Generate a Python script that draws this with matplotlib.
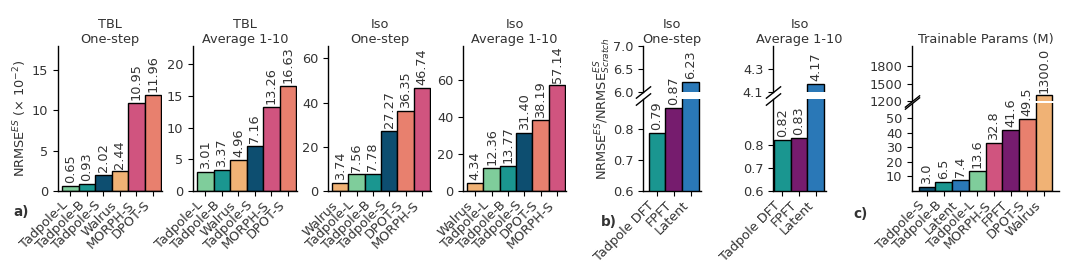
import matplotlib
matplotlib.use("Agg")
import matplotlib.pyplot as plt

# colour per model
colors = {
    "Tadpole-L": "#7fcd9b",
    "Tadpole-B": "#1a9690",
    "Tadpole-S": "#0d4e70",
    "Walrus": "#f0b275",
    "MORPH-S": "#d0547f",
    "DPOT-S": "#e8806e",
    "Tadpole DFT": "#1a9690",
    "FPFT": "#761c6e",
    "Latent": "#2a78b7",
}

# a) NRMSE^ES (x 1e-2)
tbl_one_models = ["Tadpole-L", "Tadpole-B", "Tadpole-S", "Walrus", "MORPH-S", "DPOT-S"]
tbl_one_vals = [0.65, 0.93, 2.02, 2.44, 10.95, 11.96]
tbl_avg_models = ["Tadpole-L", "Tadpole-B", "Walrus", "Tadpole-S", "MORPH-S", "DPOT-S"]
tbl_avg_vals = [3.01, 3.37, 4.96, 7.16, 13.26, 16.63]
iso_one_models = ["Walrus", "Tadpole-L", "Tadpole-B", "Tadpole-S", "DPOT-S", "MORPH-S"]
iso_one_vals = [3.74, 7.56, 7.78, 27.27, 36.35, 46.74]
iso_avg_models = ["Walrus", "Tadpole-L", "Tadpole-B", "Tadpole-S", "DPOT-S", "MORPH-S"]
iso_avg_vals = [4.34, 12.36, 13.77, 31.40, 38.19, 57.14]

# b) ratio to scratch
ft_models = ["Tadpole DFT", "FPFT", "Latent"]
ft_one_vals = [0.79, 0.87, 6.23]
ft_avg_vals = [0.82, 0.83, 4.17]

# c) trainable params (M)
param_models = ["Tadpole-S", "Tadpole-B", "Latent", "Tadpole-L", "MORPH-S", "FPFT", "DPOT-S", "Walrus"]
param_vals = [3.0, 6.5, 7.4, 13.6, 32.8, 41.6, 49.5, 1300.0]

W, H = 1080, 263
FS = 9.3
TXT = "#333333"
plt.rcParams["font.size"] = FS
plt.rcParams["axes.linewidth"] = 1.0
plt.rcParams["text.color"] = TXT
plt.rcParams["axes.labelcolor"] = TXT
plt.rcParams["xtick.labelcolor"] = TXT
plt.rcParams["ytick.labelcolor"] = TXT
plt.rcParams["xtick.major.pad"] = 2

fig = plt.figure(figsize=(W / 100, H / 100), dpi=100)


def px_axes(left, right, top, bottom):
    return fig.add_axes([left / W, 1 - bottom / H, (right - left) / W, (bottom - top) / H])


def draw_bars(ax, models, vals):
    x = list(range(len(models)))
    ax.bar(x, vals, width=1.0, color=[colors[m] for m in models], edgecolor="black", linewidth=1.0)
    ax.spines["right"].set_visible(False)
    ax.spines["top"].set_visible(False)
    return x


def add_labels(ax, x, vals, fmt, cond=lambda v: True):
    for xi, v in zip(x, vals):
        if cond(v):
            ax.annotate(fmt.format(v), (xi, v), xytext=(0, 2), textcoords="offset points",
                        rotation=90, ha="center", va="bottom", fontsize=FS)


def set_xlabels(ax, x, models):
    ax.set_xticks(x)
    ax.set_xticklabels(models, rotation=45, ha="right")


def simple_panel(lr, models, vals, title, ylim, yticks, xlim=(-0.75, 5.55)):
    ax = px_axes(lr[0], lr[1], 46, 191)
    x = draw_bars(ax, models, vals)
    add_labels(ax, x, vals, "{:.2f}")
    set_xlabels(ax, x, models)
    ax.set_xlim(*xlim)
    ax.set_ylim(*ylim)
    ax.set_yticks(yticks)
    ax.set_title(title, fontsize=FS, pad=2)
    return ax


def broken_panel(lr, split, models, vals, title, top_lim, top_ticks, bot_lim, bot_ticks,
                 xlim, fmt, top_tick_fmt=None):
    ax_t = px_axes(lr[0], lr[1], 46, split[0])
    ax_b = px_axes(lr[0], lr[1], split[1], 191)
    for ax in (ax_t, ax_b):
        x = draw_bars(ax, models, vals)
        ax.set_xlim(*xlim)
    ax_t.spines["bottom"].set_visible(False)
    ax_t.tick_params(bottom=False, labelbottom=False)
    ax_t.set_ylim(*top_lim)
    ax_t.set_yticks(top_ticks)
    if top_tick_fmt:
        ax_t.set_yticklabels([top_tick_fmt.format(t) for t in top_ticks])
    ax_b.set_ylim(*bot_lim)
    ax_b.set_yticks(bot_ticks)
    add_labels(ax_t, x, vals, fmt, cond=lambda v: v > bot_lim[1])
    add_labels(ax_b, x, vals, fmt, cond=lambda v: v <= bot_lim[1])
    set_xlabels(ax_b, x, models)
    # break marks on the y spine
    d = 0.8
    kw = dict(marker=[(-1, -d), (1, d)], markersize=11, linestyle="none",
              color="k", mec="k", mew=1.0, clip_on=False)
    ax_t.plot([0], [0], transform=ax_t.transAxes, **kw)
    ax_b.plot([0], [1], transform=ax_b.transAxes, **kw)
    ax_t.set_title(title, fontsize=FS, pad=2)
    return ax_t, ax_b


# panel a
ax1 = simple_panel((58, 162), tbl_one_models, tbl_one_vals, "TBL\nOne-step", (0, 18), [0, 5, 10, 15])
simple_panel((193, 297), tbl_avg_models, tbl_avg_vals, "TBL\nAverage 1-10", (0, 22.9), [0, 5, 10, 15, 20])
simple_panel((328, 431), iso_one_models, iso_one_vals, "Iso\nOne-step", (0, 65.6), [0, 20, 40, 60])
simple_panel((463, 566), iso_avg_models, iso_avg_vals, "Iso\nAverage 1-10", (0, 78.4), [0, 20, 40, 60])
ax1.set_ylabel(r"NRMSE$^{ES}$ ($\times$ 10$^{-2}$)", fontsize=FS, labelpad=2)

# panel b
broken_panel((643, 701), (92.3, 98.7), ft_models, ft_one_vals, "Iso\nOne-step",
             (6.0, 7.0), [6.0, 6.5, 7.0], (0.6, 0.9), [0.6, 0.7, 0.8],
             (-0.83, 2.6), "{:.2f}", "{:.1f}")
broken_panel((773, 826), (92.3, 98.7), ft_models, ft_avg_vals, "Iso\nAverage 1-10",
             (4.1, 4.5), [4.1, 4.3], (0.6, 1.0), [0.6, 0.7, 0.8],
             (-0.55, 2.6), "{:.2f}", "{:.1f}")
fig.text(603 / W, 1 - 109 / H, r"NRMSE$^{ES}$/NRMSE$^{ES}_{Scratch}$", rotation=90,
         ha="center", va="center", fontsize=FS)

# panel c
broken_panel((912, 1059), (101.3, 103.4), param_models, param_vals, "Trainable Params (M)",
             (1200, 2150), [1200, 1500, 1800], (0, 60), [10, 20, 30, 40, 50],
             (-0.9, 7.9), "{:.1f}")

# panel letters
for letter, px, py in [("a)", 21, 212), ("b)", 609, 222), ("c)", 860, 214)]:
    fig.text(px / W, 1 - py / H, letter, fontweight="bold", ha="center", va="center", fontsize=FS + 0.5)

fig.savefig("out.png", dpi=100)
